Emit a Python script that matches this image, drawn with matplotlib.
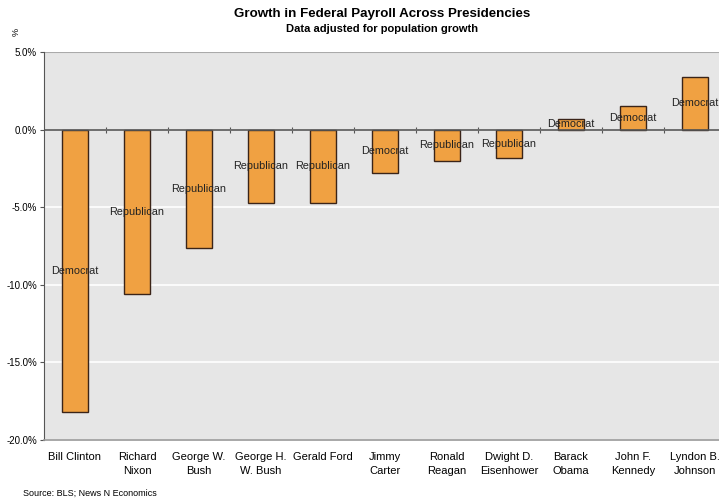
import matplotlib.pyplot as plt
from matplotlib.ticker import FuncFormatter

plt.rcParams['font.family'] = ['Liberation Sans', 'DejaVu Sans']

# data
presidents = ["Bill Clinton", "Richard\nNixon", "George W.\nBush", "George H.\nW. Bush",
              "Gerald Ford", "Jimmy\nCarter", "Ronald\nReagan", "Dwight D.\nEisenhower",
              "Barack\nObama", "John F.\nKennedy", "Lyndon B.\nJohnson"]
growth = [-18.2, -10.6, -7.6, -4.7, -4.7, -2.8, -2.0, -1.8, 0.7, 1.5, 3.4]
party = ["Democrat", "Republican", "Republican", "Republican", "Republican", "Democrat",
         "Republican", "Republican", "Democrat", "Democrat", "Democrat"]

fig = plt.figure(figsize=(7.19, 4.99), dpi=100)
# plot area runs a little past the right edge, like the original
ax = fig.add_axes([44/719, 1 - 440/499, 682/719, 388/499])
ax.set_facecolor('#e6e6e6')

x = range(len(growth))
bars = ax.bar(x, growth, width=0.41, color='#f0a142', edgecolor='#3a2418', linewidth=1.0, zorder=3)
ax.bar_label(bars, labels=party, label_type='center', fontsize=7.8, color='#222222', zorder=4)

ax.set_xlim(-0.5, len(growth) - 0.5)
ax.set_ylim(-20, 5)
ax.set_yticks([5, 0, -5, -10, -15, -20])
ax.yaxis.set_major_formatter(FuncFormatter(lambda v, p: f"{v:.1f}%"))
ax.grid(axis='y', color='white', linewidth=1.2, zorder=1)
ax.axhline(0, color='#555555', linewidth=1.2, zorder=5)

ax.set_xticks(list(x))
ax.set_xticklabels(presidents, fontsize=8, linespacing=1.45)
ax.tick_params(axis='x', length=0, pad=9)
ax.tick_params(axis='y', labelsize=7, length=3, color='#555555', pad=2)

for s in ['top', 'right']:
    ax.spines[s].set_visible(False)
ax.spines['left'].set_color('#555555')
ax.spines['bottom'].set_color('#999999')
ax.spines['bottom'].set_linewidth(1.2)
ax.axhline(5, color='#aaaaaa', linewidth=1.5, zorder=2)

# category boundary ticks on the zero line
sec = ax.secondary_xaxis(0.8)
sec.set_xticks([i + 0.5 for i in range(len(growth) - 1)])
sec.tick_params(axis='x', direction='inout', length=5, labelbottom=False, labeltop=False,
                color='#555555')
sec.spines['bottom'].set_visible(False)
sec.spines['top'].set_visible(False)

fig.text(382/719, 1 - 14/499, "Growth in Federal Payroll Across Presidencies",
         ha='center', va='center', fontsize=9.6, fontweight='bold')
fig.text(382/719, 1 - 29/499, "Data adjusted for population growth",
         ha='center', va='center', fontsize=8, fontweight='bold')
fig.text(16/719, 1 - 32/499, "%", ha='center', va='center', fontsize=6.5, rotation=90)
fig.text(23/719, 1 - 493/499, "Source: BLS; News N Economics", ha='left', va='center', fontsize=6.5)

fig.savefig('out.png', dpi=100)
